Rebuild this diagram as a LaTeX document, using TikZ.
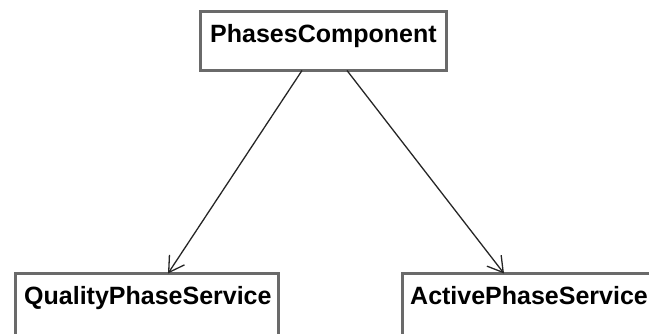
\documentclass[tikz,border=0pt]{standalone}
\usepackage{fontspec}
\setmainfont{Liberation Sans}
\usetikzlibrary{arrows.meta}
\definecolor{boxgray}{HTML}{6A6A6A}
\definecolor{linec}{HTML}{262626}
\begin{document}
\begin{tikzpicture}[x=1pt,y=-1pt,
  umlbox/.style={draw=boxgray, line width=2.8pt, fill=white, anchor=north west, inner sep=0pt, outer sep=0pt},
  umltext/.style={anchor=base west, inner sep=0pt, font=\fontsize{25}{29}\selectfont\bfseries},
  assoc/.style={draw=linec, line width=1.3pt, -{Straight Barb[length=15pt,width=18pt,line width=1.3pt]}}]
\useasboundingbox (0,0) rectangle (649,334);
\begin{scope}
\clip (0,0) rectangle (649,334);
\node[umlbox, minimum width=246pt, minimum height=59pt] (pc) at (200.5,11.5) {};
\node[umlbox, minimum width=263pt, minimum height=100pt] (qps) at (15.5,273.5) {};
\node[umlbox, minimum width=300pt, minimum height=100pt] (aps) at (402.5,273.5) {};
\end{scope}
\node[umltext] (pct) at (210,43) {PhasesComponent};
\node[umltext] (qpst) at (24,305) {QualityPhaseService};
\node[umltext] (apst) at (410,305) {ActivePhaseService};
\draw[assoc] ([xshift=101.5pt]pc.south west) -- ([xshift=152.5pt]qps.north west);
\draw[assoc] ([xshift=146.5pt]pc.south west) -- ([xshift=101.5pt]aps.north west);
\end{tikzpicture}
\end{document}
